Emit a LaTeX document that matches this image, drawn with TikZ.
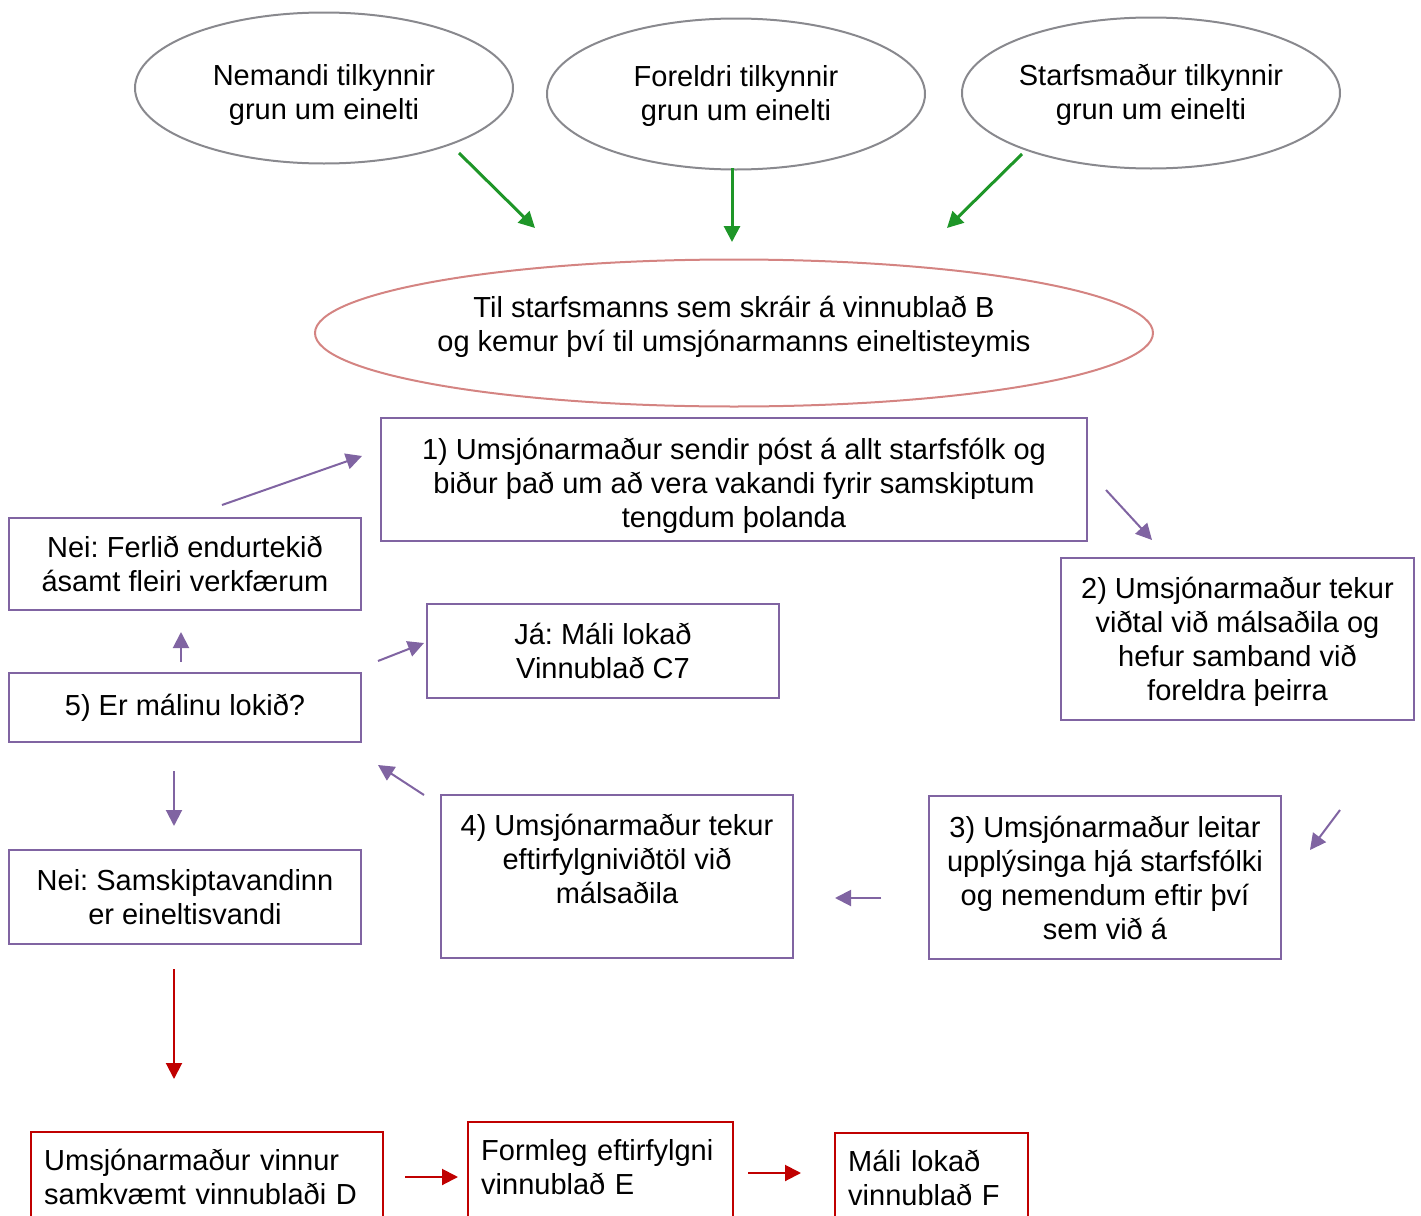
\documentclass[tikz,border=0pt]{standalone}
\usepackage{fontspec}
\setmainfont{Liberation Sans}
\usepackage{tikz}
\usetikzlibrary{arrows.meta,shapes.geometric}
\tikzset{>/.tip={Triangle[length=8pt,width=8pt]}}
\definecolor{ellgray}{RGB}{137,137,142}
\definecolor{ellred}{RGB}{212,132,130}
\definecolor{boxpurple}{RGB}{128,100,162}
\definecolor{arrgreen}{RGB}{30,150,40}
\definecolor{boxred}{RGB}{192,0,0}
\frenchspacing

\begin{document}
\begin{tikzpicture}[x=0.5pt,y=-0.5pt,font=\fontsize{14.5}{17}\selectfont,
  gell/.style={ellipse,draw=ellgray,line width=1pt,inner sep=0pt,align=center,
    minimum width=189pt,minimum height=75.5pt},
  rell/.style={ellipse,draw=ellred,line width=1pt,inner xsep=-3pt,inner ysep=0pt,align=center,
    minimum width=419pt,minimum height=73.5pt,text depth=9pt},
  pbox/.style={draw=boxpurple,line width=1.2pt,align=center,minimum width=176pt},
  rbox/.style={draw=boxred,line width=1.2pt,align=left,anchor=north west,
    inner xsep=6.5pt,inner ysep=6pt,text height=13pt,text depth=25pt},
  garr/.style={->,draw=arrgreen,fill=arrgreen,line width=1.5pt},
  parr/.style={->,draw=boxpurple,fill=boxpurple,line width=1pt},
  rarr/.style={->,draw=boxred,fill=boxred,line width=1pt}]
  \path[use as bounding box] (0,0) rectangle (1421,1216);
  \clip (0,0) rectangle (1421,1216);
  % who reports
  \node[gell,text height=35pt] (nem) at (324,88) {Nemandi tilkynnir\\grun um einelti};
  \node[gell,text height=30pt] (for) at (736,94) {Foreldri tilkynnir\\grun um einelti};
  \node[gell,text height=29.6pt] (sta) at (1151,93) {Starfsmaður tilkynnir\\grun um einelti};
  \node[rell] (til) at (734,333) {Til starfsmanns sem skráir á vinnublað B\\og kemur því til umsjónarmanns eineltisteymis};
  % steps
  \node[pbox,minimum height=61.5pt,minimum width=353pt,text height=51pt] (s1) at (734,479.5)
    {1) Umsjónarmaður sendir póst á allt starfsfólk og\\biður það um að vera vakandi fyrir samskiptum\\tengdum þolanda};
  \node[pbox,minimum height=81pt,minimum width=176.5pt,text height=64.5pt] (s2) at (1237.5,639)
    {2) Umsjónarmaður tekur\\viðtal við málsaðila og\\hefur samband við\\foreldra þeirra};
  \node[pbox,minimum height=81.5pt] (s3) at (1105,877.5)
    {3) Umsjónarmaður leitar\\upplýsinga hjá starfsfólki\\og nemendum eftir því\\sem við á};
  \node[pbox,minimum height=81.5pt,text depth=17.5pt] (s4) at (617,876.5)
    {4) Umsjónarmaður tekur\\eftirfylgniviðtöl við\\málsaðila};
  \node[pbox,minimum height=34.5pt] (s5) at (185,707.5) {5) Er málinu lokið?};
  \node[pbox,minimum height=47pt] (ja) at (603,651) {Já: Máli lokað\\Vinnublað C7};
  \node[pbox,minimum height=46pt] (neif) at (185,564) {Nei: Ferlið endurtekið\\ásamt fleiri verkfærum};
  \node[pbox,minimum height=47pt] (neis) at (185,897) {Nei: Samskiptavandinn\\er eineltisvandi};
  % bullying track
  \node[rbox,text width=163pt] (vd) at (30,1131) {Umsjónarmaður vinnur\\samkvæmt vinnublaði D};
  \node[rbox,text width=119.5pt] (ve) at (467,1121) {Formleg eftirfylgni\\vinnublað E};
  \node[rbox,text width=83.5pt] (vf) at (834,1132) {Máli lokað\\vinnublað F};
  % arrow ends
  \coordinate (g1a) at (459,153);  \coordinate (g1b) at (535,228);
  \coordinate (g2a) at (732,168);  \coordinate (g2b) at (732,242);
  \coordinate (g3a) at (1022,154); \coordinate (g3b) at (947,228);
  \coordinate (p1a) at (222,505);  \coordinate (p1b) at (362,456);
  \coordinate (p2a) at (1106,490); \coordinate (p2b) at (1152,540);
  \coordinate (p3a) at (1340,810); \coordinate (p3b) at (1310,850);
  \coordinate (p4a) at (881,898);  \coordinate (p4b) at (835,898);
  \coordinate (p5a) at (424,795);  \coordinate (p5b) at (378,765);
  \coordinate (p6a) at (181,662);  \coordinate (p6b) at (181,632);
  \coordinate (p7a) at (378,661);  \coordinate (p7b) at (424,643);
  \coordinate (p8a) at (174,771);  \coordinate (p8b) at (174,826);
  \coordinate (r1a) at (174,969);  \coordinate (r1b) at (174,1079);
  \coordinate (r2a) at (405,1177); \coordinate (r2b) at (458,1177);
  \coordinate (r3a) at (748,1173); \coordinate (r3b) at (801,1173);
  \draw[garr] (g1a) -- (g1b);
  \draw[garr] (g2a) -- (g2b);
  \draw[garr] (g3a) -- (g3b);
  \draw[parr] (p1a) -- (p1b);
  \draw[parr] (p2a) -- (p2b);
  \draw[parr] (p3a) -- (p3b);
  \draw[parr] (p4a) -- (p4b);
  \draw[parr] (p5a) -- (p5b);
  \draw[parr] (p6a) -- (p6b);
  \draw[parr] (p7a) -- (p7b);
  \draw[parr] (p8a) -- (p8b);
  \draw[rarr] (r1a) -- (r1b);
  \draw[rarr] (r2a) -- (r2b);
  \draw[rarr] (r3a) -- (r3b);
\end{tikzpicture}
\end{document}
